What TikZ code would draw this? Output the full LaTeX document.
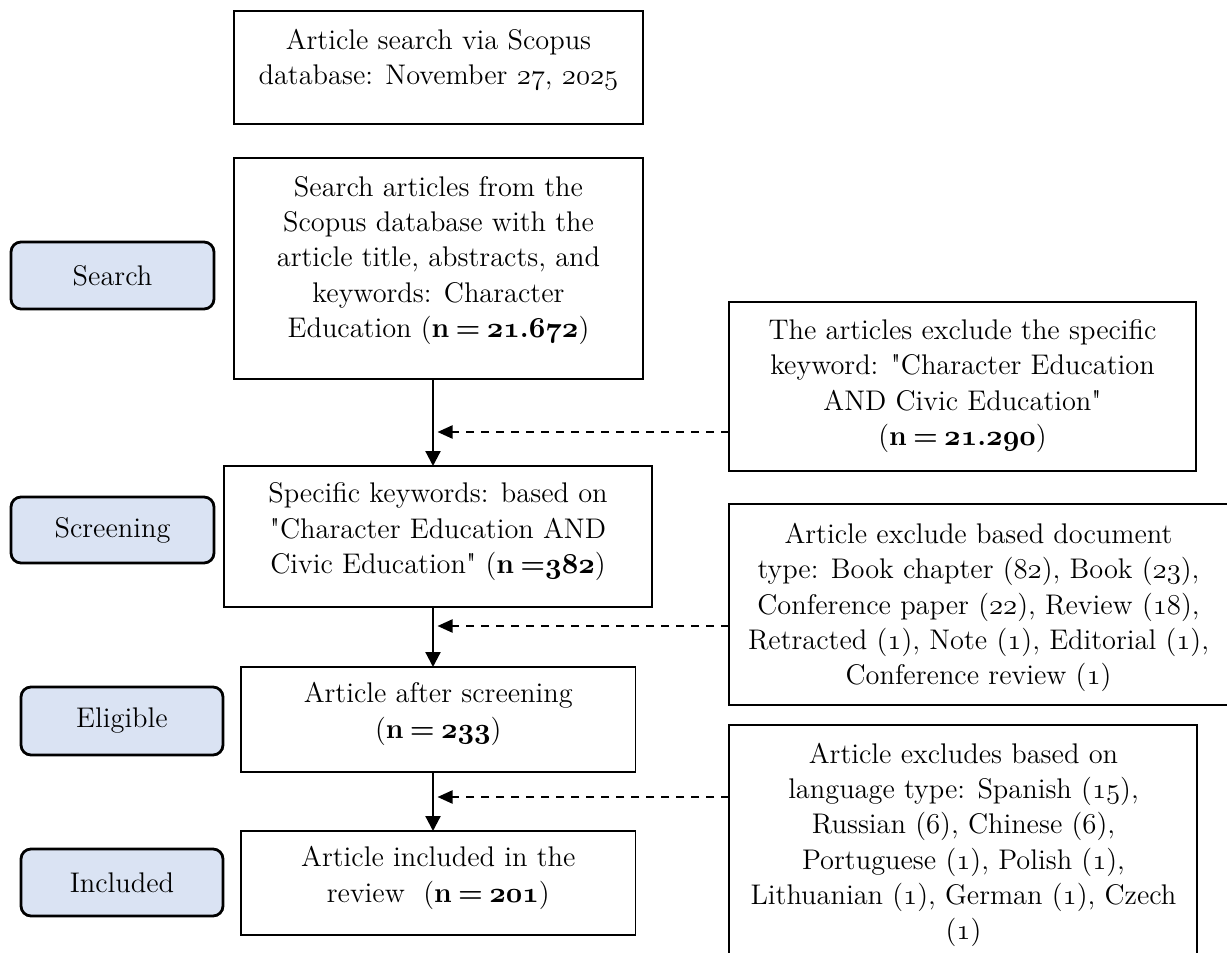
\documentclass[tikz,border=0pt]{standalone}
\usetikzlibrary{arrows.meta,fit}
\definecolor{labfill}{HTML}{DAE3F3}
\newcommand{\osn}[1]{{\fontencoding{OML}\fontfamily{cmm}\fontseries{m}\fontshape{it}\selectfont #1}}
\newcommand{\osb}[1]{{\fontencoding{OML}\fontfamily{cmm}\fontseries{b}\fontshape{it}\selectfont #1}}
\newcommand{\nEq}{\textbf{n\hspace{0.22em}=\hspace{0.22em}}}
\newcommand{\qq}{\textquotedbl}
\tikzset{
  box/.style={draw=black, line width=0.6pt, inner sep=0pt, outer sep=0pt},
  lab/.style={draw=black, line width=1.4pt, rounded corners=5pt, fill=labfill, inner sep=0pt, outer sep=0pt},
  txt/.style={align=center, inner sep=0pt, outer sep=0pt, font=\fontsize{14.2}{17.6}\selectfont},
  arr/.style={line width=1.1pt, -{Triangle[length=7.5pt,width=7.5pt]}},
  darr/.style={line width=1.1pt, dash pattern=on 4.2pt off 3.3pt, -{Triangle[length=7.5pt,width=6.5pt]}}
}
\begin{document}
\begin{tikzpicture}[x=0.5pt,y=-0.5pt]
\useasboundingbox (0,0) rectangle (1227,953);
\fill[white] (0,0) rectangle (1227,953);

% left stage labels
\node[lab, fit={(11,242) (214,309)}] (ls) {};
\node[txt] (lst) at (ls.center) {Search};
\node[lab, fit={(11,497) (214,563)}] (lsc) {};
\node[txt] (lsct) at (lsc.center) {Screening};
\node[lab, fit={(21,687) (223,755)}] (le) {};
\node[txt] (let) at (le.center) {Eligible};
\node[lab, fit={(21,849) (223,916)}] (li) {};
\node[txt] (lit) at (li.center) {Included};

% centre column
\node[box, fit={(234,11) (643,124)}] (A) {};
\node[txt] (At) at (438.5,59.5) {Article search via Scopus\\database: November \osn{27}, \osn{2025}};

\node[box, fit={(234,158) (643,379)}] (B) {};
\node[txt] (Bt) at (438.5,260.5) {Search articles from the\\Scopus database with the\\article title, abstracts, and\\keywords: Character\\Education (\nEq\osb{21}\textbf{.}\osb{672})};

\node[box, fit={(224,466) (652,607)}] (C) {};
\node[txt] (Ct) at (438,531.7) {Specific keywords: based on\\\qq Character Education AND\\Civic Education\qq{} (\textbf{n\hspace{0.22em}=}\osb{382})};

\node[box, fit={(241,667) (635.5,772)}] (E) {};
\node[txt] (Et) at (438.3,714) {Article after screening\\(\nEq\osb{233})};

\node[box, fit={(241,831) (635.5,935)}] (I) {};
\node[txt] (It) at (438.3,878) {Article included in the\\review~~(\nEq\osb{201})};

% right column
\node[box, fit={(729,302) (1196,471)}] (R1) {};
\node[txt] (R1t) at (962.5,386) {The articles exclude the specific\\keyword: \qq Character Education\\AND Civic Education\qq\\(\nEq\osb{21}\textbf{.}\osb{290})};

\node[box, fit={(729,504) (1230,705)}] (R2) {};
\node[txt] (R2t) at (978.5,607.5) {Article exclude based document\\type: Book chapter (\osn{82}), Book (\osn{23}),\\Conference paper (\osn{22}), Review (\osn{18}),\\Retracted (\osn{1}), Note (\osn{1}), Editorial (\osn{1}),\\Conference review (\osn{1})};

\node[box, fit={(729,725) (1197,990)}] (R3) {};
\node[txt] (R3t) at (963.5,845) {Article excludes based on\\language type: Spanish (\osn{15}),\\Russian (\osn{6}), Chinese (\osn{6}),\\Portuguese (\osn{1}), Polish (\osn{1}),\\Lithuanian (\osn{1}), German (\osn{1}), Czech\\(\osn{1})};

% solid flow arrows
\coordinate (ax) at (433,0);
\draw[arr] (B.south -| ax) -- (C.north -| ax);
\draw[arr] (C.south -| ax) -- (E.north -| ax);
\draw[arr] (E.south -| ax) -- (I.north -| ax);

% dashed exclusion arrows
\coordinate (d1) at (437.5,432);
\coordinate (d2) at (437.5,626);
\coordinate (d3) at (437.5,797);
\draw[darr] (R1.west |- d1) -- (d1);
\draw[darr] (R2.west |- d2) -- (d2);
\draw[darr] (R3.west |- d3) -- (d3);
\end{tikzpicture}
\end{document}
